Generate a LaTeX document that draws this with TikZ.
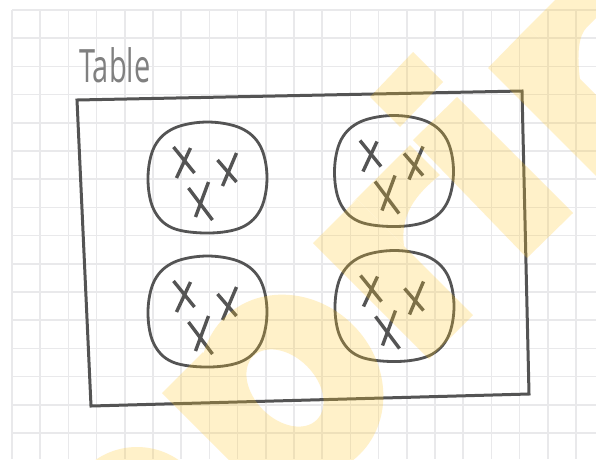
\documentclass[tikz,border=0pt]{standalone}
\usepackage{fontspec}
\newfontfamily\labelfont{Open Sans}
\usepackage{graphicx}
\definecolor{ink}{RGB}{84,84,84}
\definecolor{gridc}{RGB}{233,233,235}
\definecolor{labelc}{RGB}{128,128,128}
\definecolor{wm}{RGB}{255,200,40}
\tikzset{
  gridline/.style={draw=gridc, line width=1.6},
  tablebox/.style={draw=ink, line width=3, line join=miter},
  seat/.style={draw=ink, line width=2.8},
  cross/.style={draw=ink, line width=3.4},
  pics/seatgroup/.style={code={
    \draw[seat] plot[smooth cycle, tension=0.6] coordinates {
      (0,-55) (33.4,-48.8) (52.8,-30.9) (59.5,0) (53.5,31.5) (35,50)
      (2,56) (-35,51) (-54,32) (-59.5,0) (-52.8,-30.9) (-33.4,-48.8)};
    \draw[cross] (-34,-30) -- (-13,-4);
    \draw[cross] (-17,-29) -- (-31,1);
    \draw[cross] (10,-17) -- (29,5);
    \draw[cross] (29,-24) -- (15,9);
    \draw[cross] (-19,11) -- (5,43);
    \draw[cross] (1,5) -- (-12,40);
  }}
}
\begin{document}
\begin{tikzpicture}[x=1pt,y=-1pt]
\useasboundingbox (0,0) rectangle (596,459);
\fill[white] (0,0) rectangle (596,459);
% grid
\foreach \i in {0,...,20} \draw[gridline] ({12+28.2*\i},10) -- ({12+28.2*\i},459);
\foreach \j in {0,...,15} \draw[gridline] (12,{10+28.2*\j}) -- (596,{10+28.2*\j});
% label
\node[anchor=base west, inner sep=0, text=labelc,
      font=\labelfont\fontsize{46}{46}\selectfont] (tablelabel) at (79,82)
      {\scalebox{0.63}[1]{Table}};
% table outline
\coordinate (tl) at (77,100);
\coordinate (tr) at (522,91);
\coordinate (br) at (529,394);
\coordinate (bl) at (91,406);
\draw[tablebox] (tl) -- (tr) -- (br) -- (bl) -- cycle;
% seat groups
\pic at (207.5,177) {seatgroup};
\pic at (394,170.5) {seatgroup};
\pic at (207.5,311) {seatgroup};
\pic at (394.5,305.5) {seatgroup};
% watermark
\begin{scope}
\clip (0,0) rectangle (596,459);
\begin{scope}[transparency group, opacity=0.25]
\fill[wm] (137,520) circle[radius=73];
\fill[wm] (162,393) -- (203,352) -- (353,502) -- (312,543) -- cycle;
\begin{pgfscope}
\pgfsetfillcolor{wm}
\pgfpathellipse{\pgfpoint{292pt}{-386pt}}{\pgfpoint{68pt}{-68pt}}{\pgfpoint{61pt}{61pt}}
\pgfpathellipse{\pgfpoint{285pt}{-388pt}}{\pgfpoint{31.8pt}{-31.8pt}}{\pgfpoint{21.9pt}{21.9pt}}
\pgfseteorule
\pgfusepath{fill}
\end{pgfscope}
\fill[wm] (313,243) -- (357,199) -- (473,315) -- (429,359) -- cycle;
\fill[wm] (352,203) -- (410,145) -- (440,175) .. controls (415,195) and (400,215) .. (404,246) -- (357,199) -- cycle;
\fill[wm] (370,97) -- (413,52) -- (443,82) -- (400,127) -- cycle;
\fill[wm] (413,140) -- (457,97) -- (573,213) -- (527,258) -- cycle;
\fill[wm] (488,68) -- (528,27) -- (650,149) -- (610,190) -- cycle;
\fill[wm] (528,27) -- (627,-72) -- (657,-43) -- (587,27) .. controls (578,36) and (577,55) .. (580,80) -- cycle;
\end{scope}
\end{scope}
\end{tikzpicture}
\end{document}
